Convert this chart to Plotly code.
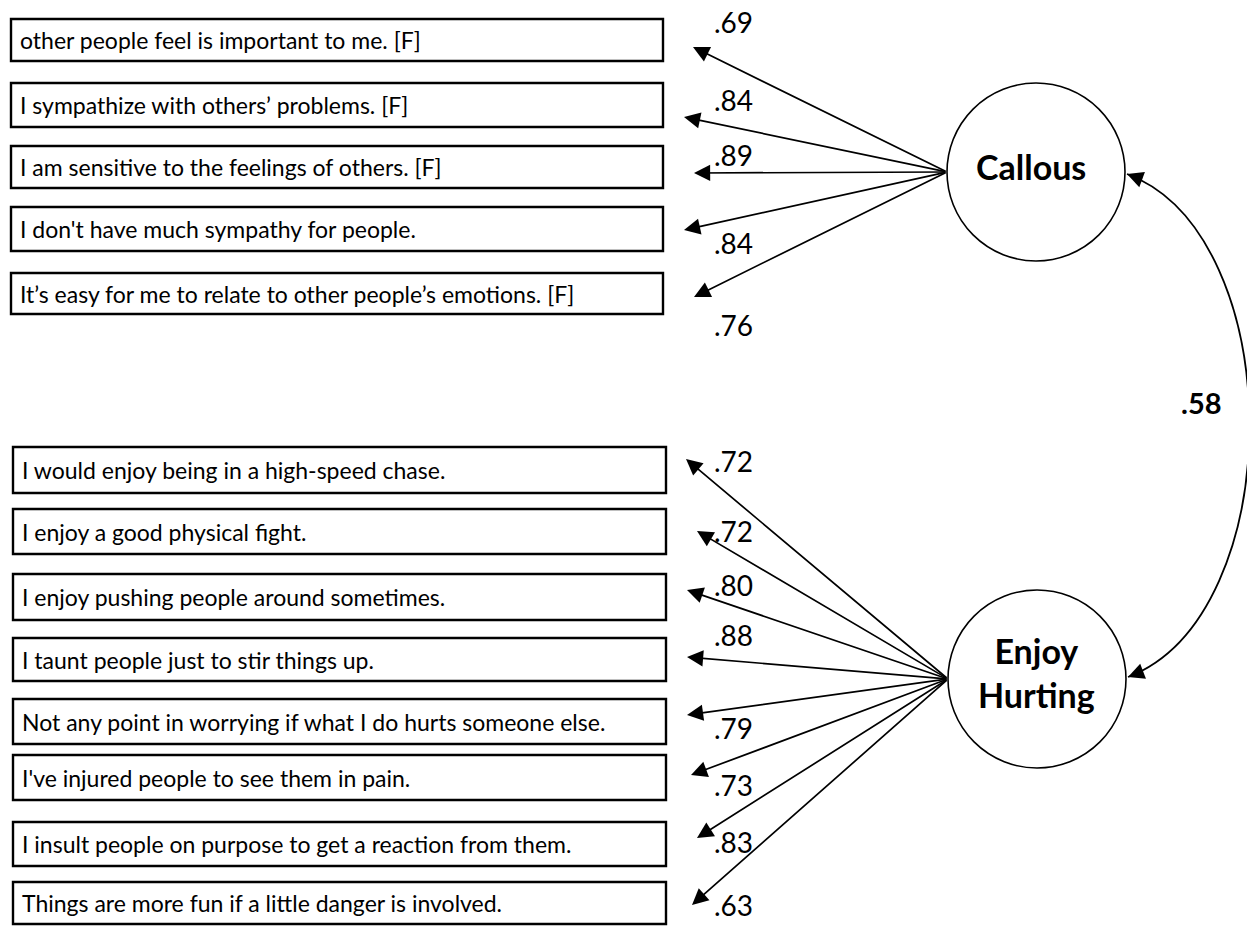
import numpy as np
import plotly.graph_objects as go

# ---------------- data ----------------
callous_items = [
    "other people feel is important to me. [F]",
    "I sympathize with others’ problems. [F]",
    "I am sensitive to the feelings of others. [F]",
    "I don't have much sympathy for people.",
    "It’s easy for me to relate to other people’s emotions. [F]",
]
callous_loadings = [".69", ".84", ".89", ".84", ".76"]

enjoy_items = [
    "I would enjoy being in a high-speed chase.",
    "I enjoy a good physical fight.",
    "I enjoy pushing people around sometimes.",
    "I taunt people just to stir things up.",
    "Not any point in worrying if what I do hurts someone else.",
    "I've injured people to see them in pain.",
    "I insult people on purpose to get a reaction from them.",
    "Things are more fun if a little danger is involved.",
]
enjoy_loadings = [".72", ".72", ".80", ".88", ".79", ".73", ".83", ".63"]

factor_names = ["Callous", "Enjoy<br>Hurting"]
factor_correlation = ".58"

# ---------------- layout (positions in pixel-like axis units) ----------------
W, H = 1247, 926
callous_box_top = [19, 83, 146, 207, 273]
callous_box_bot = [61, 127, 188, 251, 314]
callous_box_x = (11, 663)
callous_tip = [(693, 47), (684, 117), (694, 173), (684, 230), (694, 297)]
callous_lab_y = [22, 100, 155, 243, 325]

enjoy_box_top = [447, 509, 574, 638, 699, 755, 822, 882]
enjoy_box_bot = [493, 554, 620, 681, 744, 800, 866, 924]
enjoy_box_x = (13, 666)
enjoy_tip = [(686, 459), (697, 531), (687, 590), (687, 657), (687, 715), (691, 775), (697, 838), (692, 905)]
enjoy_lab_y = [461, 531, 585, 635, 728, 785, 842, 905]

lab_x = 733
factor_center = [(1036, 172), (1037, 679)]
factor_r = [89, 89]
factor_text_pos = [(1031, 166), (1036, 672)]
corr_text_pos = (1201, 402)

item_font = dict(family="Lato", size=23, color="black")
load_font = dict(family="Lato", size=28, color="black")
factor_font = dict(family="Lato", size=34, color="black")
corr_font = dict(family="Lato", size=29, color="black")

fig = go.Figure()
shapes = []
annotations = []

def add_items(items, loadings, tops, bots, bx, tips, laby, src):
    for it, ld, t, b, tip, ly in zip(items, loadings, tops, bots, tips, laby):
        shapes.append(dict(type="rect", xref="x", yref="y", x0=bx[0], x1=bx[1], y0=t, y1=b,
                           line=dict(color="black", width=2.4), fillcolor="white", layer="below"))
        annotations.append(dict(x=bx[0] + 7, y=(t + b) / 2, xref="x", yref="y", text=it,
                                showarrow=False, xanchor="left", yanchor="middle", font=item_font))
        annotations.append(dict(x=tip[0], y=tip[1], xref="x", yref="y", ax=src[0], ay=src[1],
                                axref="x", ayref="y", text="", showarrow=True, arrowhead=2,
                                arrowsize=1.9, arrowwidth=1.7, arrowcolor="black", standoff=0,
                                startstandoff=0))
        annotations.append(dict(x=lab_x, y=ly, xref="x", yref="y", text=ld, showarrow=False,
                                xanchor="center", yanchor="middle", font=load_font))

c0, c1 = factor_center
add_items(callous_items, callous_loadings, callous_box_top, callous_box_bot, callous_box_x,
          callous_tip, callous_lab_y, (c0[0] - factor_r[0], c0[1]))
add_items(enjoy_items, enjoy_loadings, enjoy_box_top, enjoy_box_bot, enjoy_box_x,
          enjoy_tip, enjoy_lab_y, (c1[0] - factor_r[1], c1[1]))

for (cx, cy), r, name, tp in zip(factor_center, factor_r, factor_names, factor_text_pos):
    shapes.append(dict(type="circle", xref="x", yref="y", x0=cx - r, x1=cx + r, y0=cy - r, y1=cy + r,
                       line=dict(color="black", width=1.6), fillcolor="white"))
    annotations.append(dict(x=tp[0], y=tp[1], xref="x", yref="y", text="<b>" + name + "</b>",
                            showarrow=False, font=factor_font))

# curved double-headed correlation arrow
p0 = np.array([c0[0] + factor_r[0] + 2, c0[1] + 2.0])
p3 = np.array([c1[0] + factor_r[1] + 2, c1[1] - 2.0])
k1 = np.array([1290.0, 235.0])
k2 = np.array([1290.0, 615.0])
shapes.append(dict(type="path", xref="x", yref="y",
                   path=f"M {p0[0]},{p0[1]} C {k1[0]},{k1[1]} {k2[0]},{k2[1]} {p3[0]},{p3[1]}",
                   line=dict(color="black", width=1.8)))
for tip, ctrl in [(p0, k1), (p3, k2)]:
    d = (ctrl - tip) / np.linalg.norm(ctrl - tip)
    tail = tip + 16 * d
    annotations.append(dict(x=tip[0], y=tip[1], xref="x", yref="y", ax=tail[0], ay=tail[1],
                            axref="x", ayref="y", text="", showarrow=True, arrowhead=2,
                            arrowsize=1.9, arrowwidth=1.7, arrowcolor="black", standoff=0))
annotations.append(dict(x=corr_text_pos[0], y=corr_text_pos[1], xref="x", yref="y",
                        text="<b>" + factor_correlation + "</b>", showarrow=False, font=corr_font))

fig.update_layout(
    width=W, height=H, margin=dict(l=0, r=0, t=0, b=0),
    paper_bgcolor="white", plot_bgcolor="white",
    xaxis=dict(range=[0, W], visible=False, fixedrange=True),
    yaxis=dict(range=[H, 0], visible=False, fixedrange=True),
    shapes=shapes, annotations=annotations, showlegend=False,
)
fig.write_html("out.html", config={"displayModeBar": False},
               post_script="document.body.style.margin='0';")
